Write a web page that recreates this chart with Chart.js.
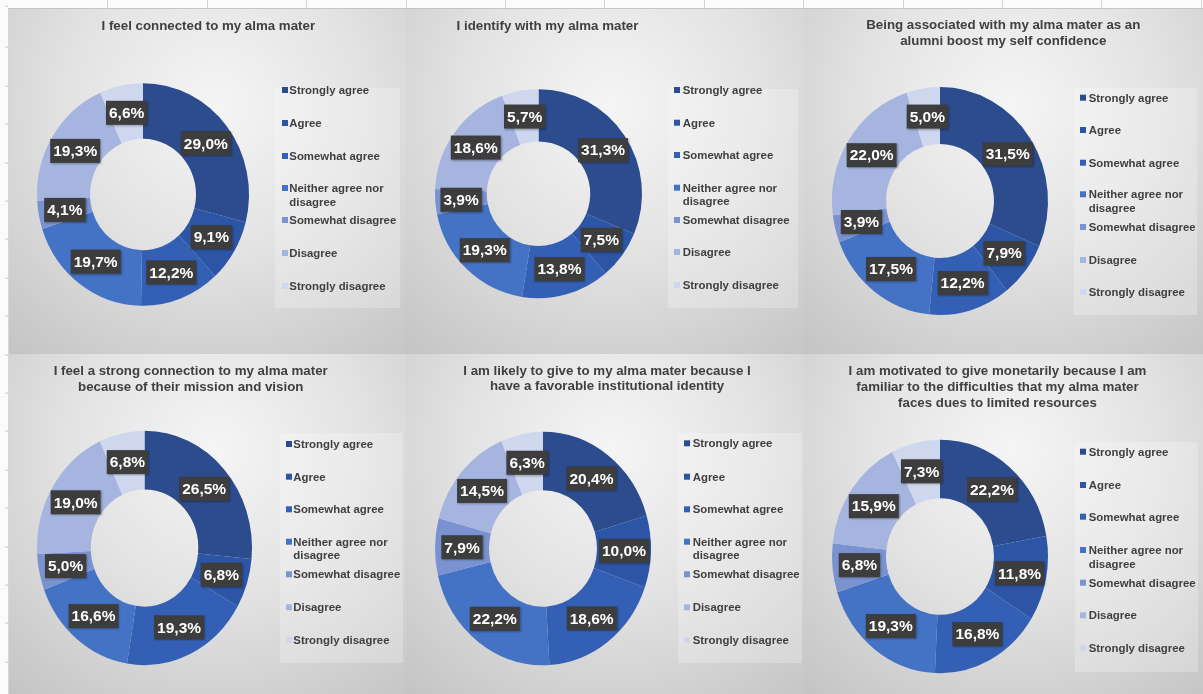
<!DOCTYPE html>
<html>
<head>
<meta charset="utf-8">
<title>Alumni identification survey</title>
<script src="https://cdn.jsdelivr.net/npm/chart.js@4.4.1/dist/chart.umd.min.js"></script>
<style>
  html, body { margin: 0; padding: 0; }
  body { width: 1203px; height: 694px; overflow: hidden; position: relative; background: #fbfbfb;
         font-family: "Liberation Sans", Arial, sans-serif; }
  /* sheet column markers along the top edge */
  #colstrip { position: absolute; left: 9px; top: 0; width: 1194px; height: 8px;
    background-image: repeating-linear-gradient(90deg, transparent 0 98.4px, #d2d2d2 98.4px 99.4px); }
  /* sheet row markers along the left edge */
  #rowstrip { position: absolute; left: 5px; top: 0; width: 3px; height: 694px;
    background-image: repeating-linear-gradient(180deg, transparent 0 37.4px, #c9c9c9 37.4px 38.4px);
    background-position: 0 9.6px; }
  #frame { position: absolute; left: 8px; top: 8px; width: 1195px; height: 686px;
    border-top: 1px solid #c4c4c4; border-left: 1px solid #d6d6d6; box-sizing: border-box; }
  .panel { position: absolute; }
  .panel canvas { display: block; }
</style>
</head>
<body>
<div id="colstrip"></div>
<div id="rowstrip"></div>
<div id="frame"></div>
<div id="charts"></div>
<script>
// Answer scale shared by every question
const categories = ['Strongly agree', 'Agree', 'Somewhat agree', 'Neither agree nor disagree',
                    'Somewhat disagree', 'Disagree', 'Strongly disagree'];

// Question titles (one entry per printed line)
const titleConnected      = ['I feel connected to my alma mater'];
const titleIdentify       = ['I identify with my alma mater'];
const titleConfidence     = ['Being associated with my alma mater as an', 'alumni boost my self confidence'];
const titleMission        = ['I feel a strong connection to my alma mater', 'because of their mission and vision'];
const titleLikelyGive     = ['I am likely to give to my alma mater because I', 'have a favorable institutional identity'];
const titleMotivatedGive  = ['I am motivated to give monetarily because I am', 'familiar to the difficulties that my alma mater', 'faces dues to limited resources'];

// Share of respondents (%) per answer, in the order of `categories`
const valuesConnected     = [29.0, 9.1, 12.2, 19.7, 4.1, 19.3, 6.6];
const valuesIdentify      = [31.3, 7.5, 13.8, 19.3, 3.9, 18.6, 5.7];
const valuesConfidence    = [31.5, 7.9, 12.2, 17.5, 3.9, 22.0, 5.0];
const valuesMission       = [26.5, 6.8, 19.3, 16.6, 5.0, 19.0, 6.8];
const valuesLikelyGive    = [20.4, 10.0, 18.6, 22.2, 7.9, 14.5, 6.3];
const valuesMotivatedGive = [22.2, 11.8, 16.8, 19.3, 6.8, 15.9, 7.3];

// Monochrome blue ramp, darkest for strongest agreement
const segmentColors = ['#2C4C8D', '#2C55A5', '#335FB4', '#4472C4', '#7A93D0', '#A5B5DF', '#CED7EE'];

const FONT = '"Liberation Sans", Arial, sans-serif';

function formatPct(v) { return v.toFixed(1).replace('.', ',') + '%'; }

function wrapText(ctx, text, maxWidth) {
  const words = text.split(' ');
  const lines = [];
  let line = '';
  words.forEach(w => {
    const test = line ? line + ' ' + w : w;
    if (line && ctx.measureText(test).width > maxWidth) { lines.push(line); line = w; }
    else line = test;
  });
  if (line) lines.push(line);
  return lines;
}

// Draws the panel background, title, legend and value callouts around the doughnut
const panelDecor = {
  id: 'panelDecor',
  beforeDraw(chart, args, o) {
    const ctx = chart.ctx, W = chart.width, H = chart.height;
    ctx.save();
    const gx = W * 0.52, gy = H * 0.28;
    const g = ctx.createRadialGradient(gx, gy, 0, gx, gy, Math.hypot(W, H) * 0.62);
    g.addColorStop(0, '#f5f5f5');
    g.addColorStop(0.45, '#e3e3e3');
    g.addColorStop(1, '#c3c3c3');
    ctx.fillStyle = g;
    ctx.fillRect(0, 0, W, H);

    // title
    ctx.fillStyle = '#404040';
    ctx.font = 'bold 13.3px ' + FONT;
    ctx.textAlign = 'center';
    ctx.textBaseline = 'alphabetic';
    o.title.lines.forEach((t, i) => ctx.fillText(t, o.title.x, o.title.ys[i]));

    // legend
    const L = o.legend;
    ctx.fillStyle = 'rgba(255,255,255,0.24)';
    ctx.fillRect(L.x, L.y, L.w, L.h);
    ctx.font = 'bold 11.4px ' + FONT;
    ctx.textAlign = 'left';
    ctx.textBaseline = 'middle';
    const colors = chart.data.datasets[0].backgroundColor;
    chart.data.labels.forEach((label, i) => {
      const y = L.ys[i];
      ctx.fillStyle = colors[i];
      ctx.fillRect(L.markerX, y - 3, 6, 6);
      ctx.fillStyle = '#3f3f3f';
      wrapText(ctx, label, L.x + L.w - L.textX - 1).forEach((line, j) => {
        ctx.fillText(line, L.textX, y + 1 + j * 13.5);
      });
    });
    ctx.restore();
  },
  beforeDatasetsDraw(chart, args, o) {
    const arc = chart.getDatasetMeta(0).data[0];
    const ctx = chart.ctx;
    ctx.save();
    ctx.translate(0, arc.y);
    ctx.scale(1, o.stretch);
    ctx.translate(0, -arc.y);
  },
  afterDatasetsDraw(chart, args, o) {
    const ctx = chart.ctx;
    ctx.restore();
    const meta = chart.getDatasetMeta(0);
    const values = chart.data.datasets[0].data;
    ctx.save();
    ctx.font = 'bold 15.5px ' + FONT;
    ctx.textAlign = 'center';
    ctx.textBaseline = 'middle';
    meta.data.forEach((el, i) => {
      const p = el.getCenterPoint();
      const x = p.x;
      const y = el.y + (p.y - el.y) * o.stretch;
      const txt = formatPct(values[i]);
      const w = ctx.measureText(txt).width + 6, h = 24;
      ctx.shadowColor = 'rgba(0,0,0,0.3)';
      ctx.shadowBlur = 2;
      ctx.shadowOffsetX = 1;
      ctx.shadowOffsetY = 1;
      ctx.fillStyle = '#3d3d3d';
      ctx.fillRect(x - w / 2, y - h / 2, w, h);
      ctx.shadowColor = 'transparent';
      ctx.fillStyle = '#ffffff';
      ctx.fillText(txt, x, y + 1);
    });
    ctx.restore();
  }
};

// Panel geometry in page pixels
const panels = [
  { values: valuesConnected, title: titleConnected,
    box: { x: 9, y: 9, w: 397, h: 345 },
    donut: { cx: 143, cy: 194.5, r: 106, stretch: 1.05 },
    titlePos: { x: 208.3, ys: [29.5] },
    legend: { x: 275, y: 88, w: 125, h: 220, markerX: 282, textX: 289.3, ys: [90, 123, 156, 188, 220, 253, 286] } },
  { values: valuesIdentify, title: titleIdentify,
    box: { x: 406, y: 9, w: 398, h: 345 },
    donut: { cx: 538.5, cy: 193.7, r: 103.5, stretch: 1.01 },
    titlePos: { x: 547.5, ys: [29.5] },
    legend: { x: 668, y: 89, w: 130, h: 219, markerX: 674, textX: 682.7, ys: [90, 122.7, 155, 187.7, 220, 252, 285] } },
  { values: valuesConfidence, title: titleConfidence,
    box: { x: 804, y: 9, w: 399, h: 345 },
    donut: { cx: 940, cy: 201, r: 108, stretch: 1.055 },
    titlePos: { x: 1003.3, ys: [29, 45] },
    legend: { x: 1074, y: 88, w: 123, h: 227, markerX: 1080, textX: 1088.7, ys: [97.7, 130, 162.7, 194.3, 227, 260, 292] } },
  { values: valuesMission, title: titleMission,
    box: { x: 9, y: 354, w: 397, h: 340 },
    donut: { cx: 144.5, cy: 548, r: 107.5, stretch: 1.09 },
    titlePos: { x: 190.7, ys: [375, 390.7] },
    legend: { x: 280, y: 433, w: 123, h: 230, markerX: 286, textX: 293.3, ys: [444, 476.7, 509.3, 541.7, 574.3, 607.3, 640] } },
  { values: valuesLikelyGive, title: titleLikelyGive,
    box: { x: 406, y: 354, w: 398, h: 340 },
    donut: { cx: 543, cy: 548.5, r: 108, stretch: 1.08 },
    titlePos: { x: 607, ys: [374.7, 390.3] },
    legend: { x: 678, y: 433, w: 124, h: 230, markerX: 684, textX: 692.7, ys: [443.3, 476.7, 509.3, 541.7, 574.3, 607.3, 640] } },
  { values: valuesMotivatedGive, title: titleMotivatedGive,
    box: { x: 804, y: 354, w: 399, h: 340 },
    donut: { cx: 940, cy: 556.5, r: 108, stretch: 1.08 },
    titlePos: { x: 997.5, ys: [375, 391.3, 407.3] },
    legend: { x: 1075, y: 442, w: 123, h: 230, markerX: 1080, textX: 1088.7, ys: [451.7, 485, 516.7, 550, 582.7, 615.3, 648.3] } }
];

const host = document.getElementById('charts');
panels.forEach(p => {
  const { box, donut } = p;
  const div = document.createElement('div');
  div.className = 'panel';
  div.style.left = box.x + 'px';
  div.style.top = box.y + 'px';
  const canvas = document.createElement('canvas');
  canvas.width = box.w;
  canvas.height = box.h;
  canvas.style.width = box.w + 'px';
  canvas.style.height = box.h + 'px';
  div.appendChild(canvas);
  host.appendChild(div);

  const cx = donut.cx - box.x, cy = donut.cy - box.y, r = donut.r;
  const L = p.legend;
  new Chart(canvas, {
    type: 'doughnut',
    data: {
      labels: categories,
      datasets: [{ data: p.values, backgroundColor: segmentColors, borderWidth: 0, clip: false }]
    },
    options: {
      responsive: false,
      animation: false,
      events: [],
      cutout: '50%',
      layout: { padding: { left: cx - r, top: cy - r, right: box.w - cx - r, bottom: box.h - cy - r } },
      plugins: {
        legend: { display: false },
        title: { display: false },
        tooltip: { enabled: false },
        panelDecor: {
          stretch: donut.stretch,
          title: { lines: p.title, x: p.titlePos.x - box.x, ys: p.titlePos.ys.map(v => v - box.y) },
          legend: { x: L.x - box.x, y: L.y - box.y, w: L.w, h: L.h,
                    markerX: L.markerX - box.x, textX: L.textX - box.x, ys: L.ys.map(v => v - box.y) }
        }
      }
    },
    plugins: [panelDecor]
  });
});
</script>
</body>
</html>
